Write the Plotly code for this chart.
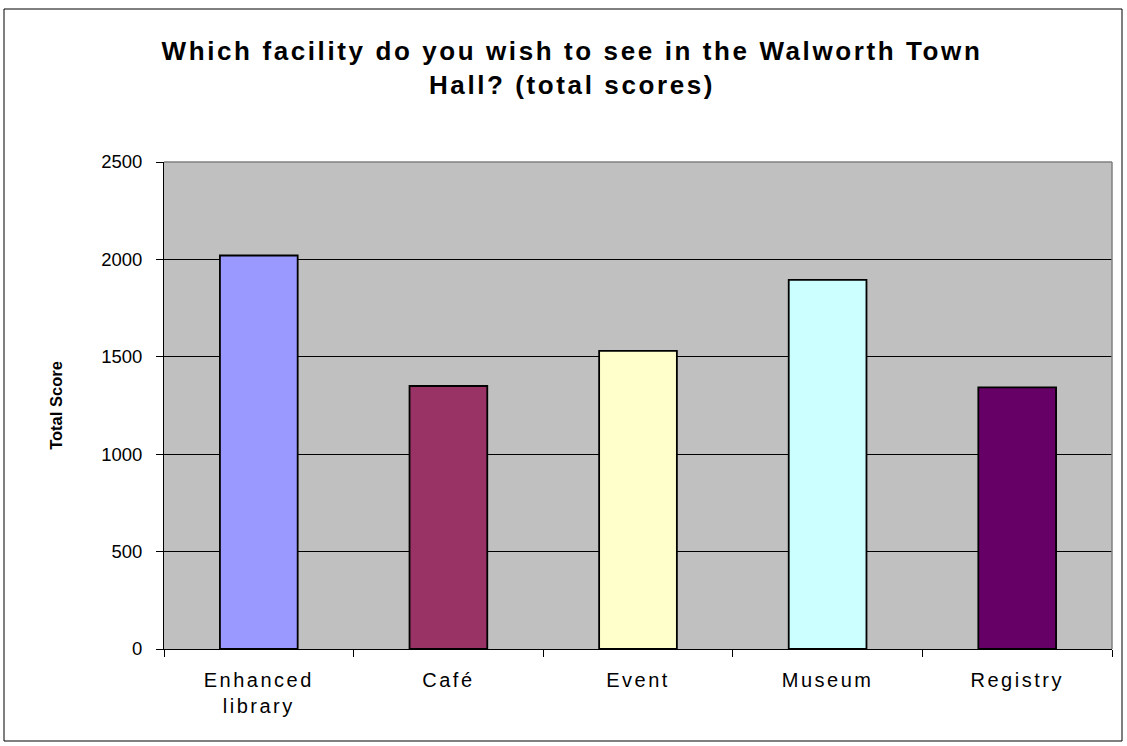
import plotly.graph_objects as go

categories = ["Enhanced<br>library", "Café", "Event", "Museum", "Registry"]
values = [2020, 1350, 1530, 1895, 1343]
colors = ["#9999FF", "#993366", "#FFFFCC", "#CCFFFF", "#660066"]
y_ticks = [0, 500, 1000, 1500, 2000, 2500]

W, H = 1127, 746
L, R, T, B = 164, 15, 162, 97
pw, ph = W - L - R, H - T - B

def px_x(x):
    return (x - L) / pw

def px_y(y):
    return (H - B - y) / ph

FONT = "Liberation Sans, Arial, sans-serif"

fig = go.Figure(go.Bar(
    x=categories, y=values,
    marker=dict(color=colors, line=dict(color="black", width=1.8)),
    width=0.41,
))

fig.update_layout(
    width=W, height=H,
    margin=dict(l=L, r=R, t=T, b=B),
    paper_bgcolor="white",
    plot_bgcolor="#C0C0C0",
    font=dict(family=FONT, color="black", size=18),
    showlegend=False,
    title=dict(
        text="Which facility do you wish to see in the Walworth Town<br>Hall? (total scores)",
        x=572 / W, xref="container", xanchor="center",
        y=1 - 60 / H, yanchor="middle",
        font=dict(size=26, family=FONT, weight="bold"),
    ),
    shapes=[
        dict(type="rect", xref="paper", yref="paper",
             x0=px_x(4), x1=px_x(1122), y0=px_y(741), y1=px_y(9),
             line=dict(color="black", width=1), fillcolor="rgba(0,0,0,0)", layer="below"),
        dict(type="line", xref="paper", yref="paper", x0=0, x1=1, y0=1, y1=1,
             line=dict(color="#808080", width=1.5)),
        dict(type="line", xref="paper", yref="paper", x0=1, x1=1, y0=0, y1=1,
             line=dict(color="#808080", width=1.5)),
    ],
)

fig.update_xaxes(
    type="category",
    showgrid=False,
    showline=True, linecolor="black", linewidth=1,
    ticks="outside", tickson="boundaries", ticklen=7, tickcolor="black",
    tickfont=dict(size=20),
    ticklabelstandoff=13,
)
fig.update_yaxes(
    range=[0, 2500],
    tickvals=y_ticks,
    showgrid=True, gridcolor="black", gridwidth=1,
    showline=True, linecolor="black", linewidth=1,
    ticks="outside", ticklen=7, tickcolor="black",
    tickfont=dict(size=18.5),
    ticklabelstandoff=10,
    zeroline=False,
    title=dict(text="Total Score", font=dict(size=16.5, weight="bold"), standoff=34),
)

post = (
    "document.body.style.margin='0';"
    "document.querySelectorAll('.xtick text').forEach(function(t){t.style.letterSpacing='2.5px';});"
    "var g=document.querySelector('.gtitle');if(g){g.style.letterSpacing='2.6px';}"
)

fig.write_html("out.html", post_script=post, config={"displayModeBar": False})
